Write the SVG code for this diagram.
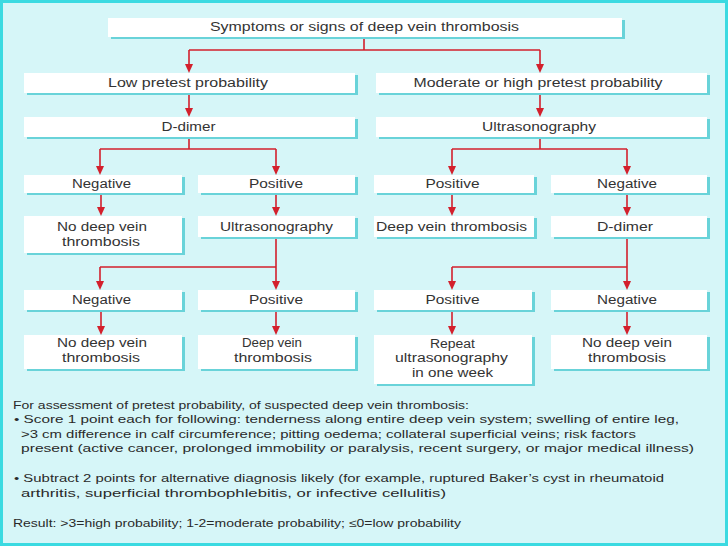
<svg xmlns="http://www.w3.org/2000/svg" width="728" height="546" viewBox="0 0 728 546">
<defs>
<style>
.sh{fill:#69d3d9}
.bx{fill:#ffffff}
.t{font-family:"Liberation Sans",Arial,sans-serif;font-size:12px;fill:#333333;text-anchor:middle}
.p{font-family:"Liberation Sans",Arial,sans-serif;font-size:11px;fill:#2a2a2a}
.c{fill:none;stroke:#d3202c;stroke-width:1.6}
</style>
<marker id="ah" markerUnits="userSpaceOnUse" markerWidth="9" markerHeight="10" refX="4.5" refY="9" orient="auto-start-reverse" viewBox="0 0 9 10">
<path d="M0,0 L9,0 L4.5,9 Z" fill="#d3202c" transform="rotate(0)"/>
</marker>
</defs>
<rect x="1.5" y="1.5" width="725" height="543" fill="#d6f6f8" stroke="#3bdae1" stroke-width="3"/>

<g id="connectors">
<path class="c" d="M364,37 V50 M189,50 H540"/>
<path class="c" d="M189,50 V64"/>
<path class="c" d="M540,50 V64"/>
<path class="c" d="M189,93 V108"/>
<path class="c" d="M540,93 V108"/>
<path class="c" d="M189,137 V149 M100,149 H276"/>
<path class="c" d="M100,149 V166"/>
<path class="c" d="M276,149 V166"/>
<path class="c" d="M540,137 V149 M452,149 H627"/>
<path class="c" d="M452,149 V166"/>
<path class="c" d="M627,149 V166"/>
<path class="c" d="M101,193 V207"/>
<path class="c" d="M276,193 V207"/>
<path class="c" d="M452,193 V207"/>
<path class="c" d="M627,193 V207"/>
<path class="c" d="M276,237 V267 M100,267 H276"/>
<path class="c" d="M100,267 V281"/>
<path class="c" d="M276,267 V281"/>
<path class="c" d="M627,237 V267 M452,267 H627"/>
<path class="c" d="M452,267 V281"/>
<path class="c" d="M627,267 V281"/>
<path class="c" d="M101,310 V326"/>
<path class="c" d="M276,310 V326"/>
<path class="c" d="M452,310 V326"/>
<path class="c" d="M627,310 V326"/>
<g fill="#d3202c">
<path d="M185,64 L193,64 L189,73 Z"/>
<path d="M536,64 L544,64 L540,73 Z"/>
<path d="M185,108 L193,108 L189,117 Z"/>
<path d="M536,108 L544,108 L540,117 Z"/>
<path d="M96,166 L104,166 L100,175 Z"/>
<path d="M272,166 L280,166 L276,175 Z"/>
<path d="M448,166 L456,166 L452,175 Z"/>
<path d="M623,166 L631,166 L627,175 Z"/>
<path d="M97,207 L105,207 L101,216 Z"/>
<path d="M272,207 L280,207 L276,216 Z"/>
<path d="M448,207 L456,207 L452,216 Z"/>
<path d="M623,207 L631,207 L627,216 Z"/>
<path d="M96,281 L104,281 L100,290 Z"/>
<path d="M272,281 L280,281 L276,290 Z"/>
<path d="M448,281 L456,281 L452,290 Z"/>
<path d="M623,281 L631,281 L627,290 Z"/>
<path d="M97,326 L105,326 L101,335 Z"/>
<path d="M272,326 L280,326 L276,335 Z"/>
<path d="M448,326 L456,326 L452,335 Z"/>
<path d="M623,326 L631,326 L627,335 Z"/>
</g>
</g>

<g id="n-top"><rect class="sh" x="111" y="20" width="514" height="19"/><rect class="bx" x="108" y="18" width="514" height="19"/><text class="t" x="364.5" y="31" textLength="309" lengthAdjust="spacingAndGlyphs">Symptoms or signs of deep vein thrombosis</text></g>
<g id="n-low"><rect class="sh" x="27" y="75" width="331" height="20"/><rect class="bx" x="24" y="73" width="331" height="20"/><text class="t" x="188" y="87" textLength="160" lengthAdjust="spacingAndGlyphs">Low pretest probability</text></g>
<g id="n-mod"><rect class="sh" x="379" y="75" width="331" height="20"/><rect class="bx" x="376" y="73" width="331" height="20"/><text class="t" x="538" y="87" textLength="249" lengthAdjust="spacingAndGlyphs">Moderate or high pretest probability</text></g>
<g id="n-dd1"><rect class="sh" x="27" y="119" width="331" height="20"/><rect class="bx" x="24" y="117" width="331" height="20"/><text class="t" x="188.5" y="131" textLength="54" lengthAdjust="spacingAndGlyphs">D-dimer</text></g>
<g id="n-us1"><rect class="sh" x="379" y="119" width="331" height="20"/><rect class="bx" x="376" y="117" width="331" height="20"/><text class="t" x="539" y="131" textLength="114" lengthAdjust="spacingAndGlyphs">Ultrasonography</text></g>

<g id="n-neg1"><rect class="sh" x="27" y="177" width="158" height="18"/><rect class="bx" x="24" y="175" width="158" height="18"/><text class="t" x="101.5" y="188" textLength="59" lengthAdjust="spacingAndGlyphs">Negative</text></g>
<g id="n-pos1"><rect class="sh" x="201" y="177" width="157" height="18"/><rect class="bx" x="198" y="175" width="157" height="18"/><text class="t" x="276" y="188" textLength="54" lengthAdjust="spacingAndGlyphs">Positive</text></g>
<g id="n-pos2"><rect class="sh" x="377" y="177" width="160" height="18"/><rect class="bx" x="374" y="175" width="160" height="18"/><text class="t" x="452.5" y="188" textLength="54" lengthAdjust="spacingAndGlyphs">Positive</text></g>
<g id="n-neg2"><rect class="sh" x="554" y="177" width="156" height="18"/><rect class="bx" x="551" y="175" width="156" height="18"/><text class="t" x="627" y="188" textLength="60" lengthAdjust="spacingAndGlyphs">Negative</text></g>

<g id="n-nodvt1"><rect class="sh" x="27" y="218" width="158" height="37"/><rect class="bx" x="24" y="216" width="158" height="37"/><text class="t" x="102" y="231" textLength="90" lengthAdjust="spacingAndGlyphs">No deep vein</text><text class="t" x="101" y="246" textLength="78" lengthAdjust="spacingAndGlyphs">thrombosis</text></g>
<g id="n-us2"><rect class="sh" x="201" y="218" width="157" height="21"/><rect class="bx" x="198" y="216" width="157" height="21"/><text class="t" x="276.5" y="231" textLength="113" lengthAdjust="spacingAndGlyphs">Ultrasonography</text></g>
<g id="n-dvt1"><rect class="sh" x="377" y="218" width="160" height="21"/><rect class="bx" x="374" y="216" width="160" height="21"/><text class="t" x="451.5" y="231" textLength="151" lengthAdjust="spacingAndGlyphs">Deep vein thrombosis</text></g>
<g id="n-dd2"><rect class="sh" x="554" y="218" width="156" height="21"/><rect class="bx" x="551" y="216" width="156" height="21"/><text class="t" x="625" y="231" textLength="56" lengthAdjust="spacingAndGlyphs">D-dimer</text></g>

<g id="n-neg3"><rect class="sh" x="27" y="292" width="158" height="20"/><rect class="bx" x="24" y="290" width="158" height="20"/><text class="t" x="101.5" y="304" textLength="59" lengthAdjust="spacingAndGlyphs">Negative</text></g>
<g id="n-pos3"><rect class="sh" x="201" y="292" width="157" height="20"/><rect class="bx" x="198" y="290" width="157" height="20"/><text class="t" x="276" y="304" textLength="54" lengthAdjust="spacingAndGlyphs">Positive</text></g>
<g id="n-pos4"><rect class="sh" x="377" y="292" width="158" height="20"/><rect class="bx" x="374" y="290" width="158" height="20"/><text class="t" x="452.5" y="304" textLength="54" lengthAdjust="spacingAndGlyphs">Positive</text></g>
<g id="n-neg4"><rect class="sh" x="554" y="292" width="156" height="20"/><rect class="bx" x="551" y="290" width="156" height="20"/><text class="t" x="627" y="304" textLength="60" lengthAdjust="spacingAndGlyphs">Negative</text></g>

<g id="n-nodvt2"><rect class="sh" x="27" y="337" width="158" height="34"/><rect class="bx" x="24" y="335" width="158" height="34"/><text class="t" x="102" y="347" textLength="90" lengthAdjust="spacingAndGlyphs">No deep vein</text><text class="t" x="101" y="362" textLength="78" lengthAdjust="spacingAndGlyphs">thrombosis</text></g>
<g id="n-dvt2"><rect class="sh" x="201" y="337" width="157" height="34"/><rect class="bx" x="198" y="335" width="157" height="34"/><text class="t" x="272" y="347" textLength="60" lengthAdjust="spacingAndGlyphs">Deep vein</text><text class="t" x="273" y="362" textLength="78" lengthAdjust="spacingAndGlyphs">thrombosis</text></g>
<g id="n-repeat"><rect class="sh" x="377" y="337" width="158" height="49"/><rect class="bx" x="374" y="335" width="158" height="49"/><text class="t" x="452.5" y="348" textLength="45" lengthAdjust="spacingAndGlyphs">Repeat</text><text class="t" x="451.5" y="362" textLength="113" lengthAdjust="spacingAndGlyphs">ultrasonography</text><text class="t" x="452.5" y="377" textLength="81" lengthAdjust="spacingAndGlyphs">in one week</text></g>
<g id="n-nodvt3"><rect class="sh" x="554" y="337" width="156" height="34"/><rect class="bx" x="551" y="335" width="156" height="34"/><text class="t" x="627" y="347" textLength="90" lengthAdjust="spacingAndGlyphs">No deep vein</text><text class="t" x="627" y="362" textLength="78" lengthAdjust="spacingAndGlyphs">thrombosis</text></g>

<g id="notes">
<text class="p" x="13" y="409" textLength="456" lengthAdjust="spacingAndGlyphs">For assessment of pretest probability, of suspected deep vein thrombosis:</text>
<text class="p" x="14" y="423" textLength="665" lengthAdjust="spacingAndGlyphs">• Score 1 point each for following: tenderness along entire deep vein system; swelling of entire leg,</text>
<text class="p" x="21" y="438" textLength="615" lengthAdjust="spacingAndGlyphs">&gt;3 cm difference in calf circumference; pitting oedema; collateral superficial veins; risk factors</text>
<text class="p" x="21" y="452" textLength="673" lengthAdjust="spacingAndGlyphs">present (active cancer, prolonged immobility or paralysis, recent surgery, or major medical illness)</text>
<text class="p" x="14" y="482" textLength="650" lengthAdjust="spacingAndGlyphs">• Subtract 2 points for alternative diagnosis likely (for example, ruptured Baker’s cyst in rheumatoid</text>
<text class="p" x="21" y="497" textLength="425" lengthAdjust="spacingAndGlyphs">arthritis, superficial thrombophlebitis, or infective cellulitis)</text>
<text class="p" x="13" y="527" textLength="448" lengthAdjust="spacingAndGlyphs">Result: &gt;3=high probability; 1-2=moderate probability; ≤0=low probability</text>
</g>
</svg>
